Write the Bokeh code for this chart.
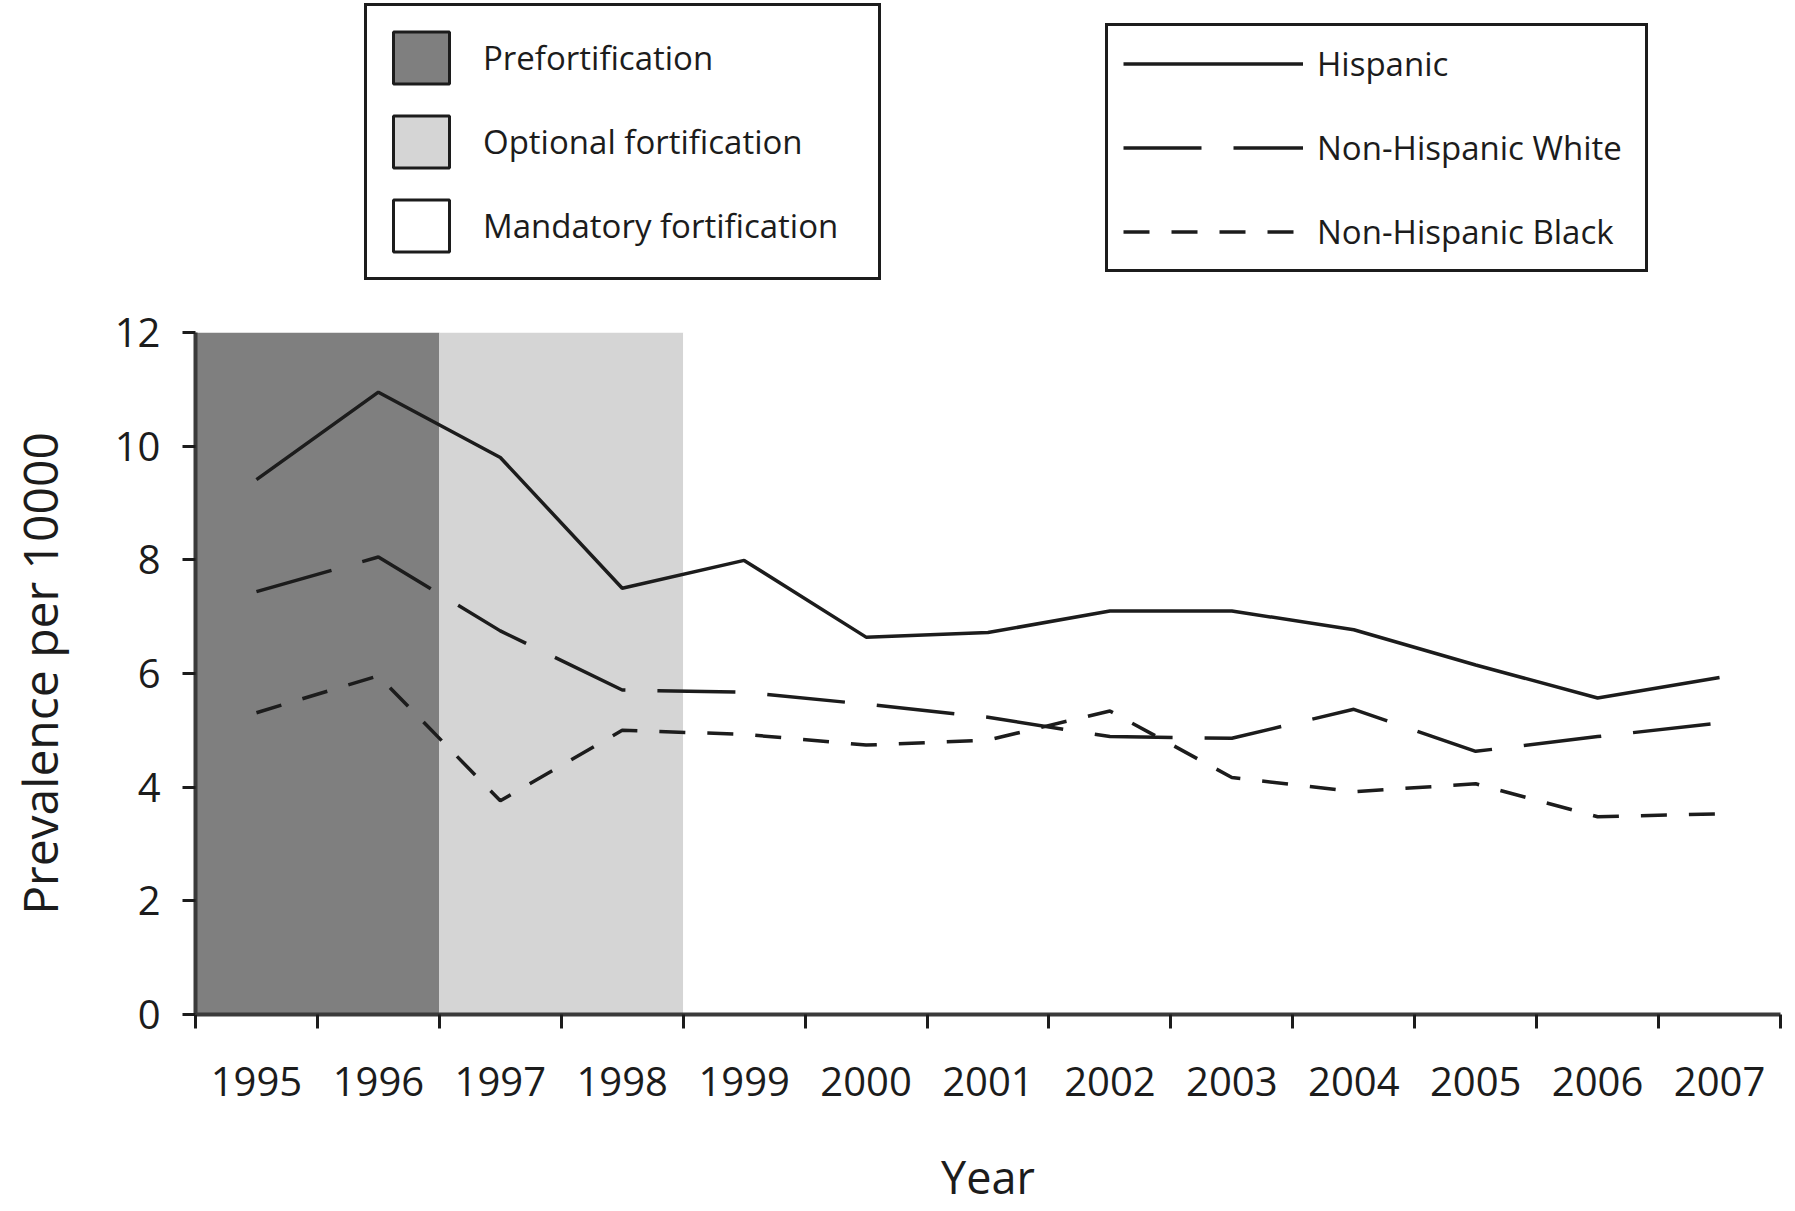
from bokeh.plotting import figure
from bokeh.layouts import column
from bokeh.models import Range1d, FixedTicker, Legend, LegendItem, ColumnDataSource
from bokeh.embed import file_html
from bokeh.resources import INLINE

# ---- data ----
years = [1995, 1996, 1997, 1998, 1999, 2000, 2001, 2002, 2003, 2004, 2005, 2006, 2007]
hispanic = [9.41, 10.95, 9.80, 7.50, 7.99, 6.64, 6.72, 7.10, 7.10, 6.77, 6.15, 5.57, 5.93]
nh_white = [7.44, 8.05, 6.75, 5.71, 5.67, 5.46, 5.23, 4.89, 4.86, 5.37, 4.63, 4.89, 5.13]
nh_black = [5.31, 5.96, 3.76, 5.00, 4.93, 4.74, 4.83, 5.34, 4.17, 3.92, 4.06, 3.48, 3.53]
series_names = ["Hispanic", "Non-Hispanic White", "Non-Hispanic Black"]
series_dash = ["solid", "78 32", "26 22"]

period_names = ["Prefortification", "Optional fortification", "Mandatory fortification"]
period_start = [1995, 1997, 1999]
period_end = [1996, 1998, 2007]
period_colors = ["#7f7f7f", "#d5d5d5", "#ffffff"]

y_ticks = [0, 2, 4, 6, 8, 10, 12]

FONT = "Open Sans"
INK = "#1c1c1c"
W = 1790
FRAME_LEFT = 195

periods = ColumnDataSource(dict(
    left=[s - 0.5 for s in period_start], right=[e + 0.5 for e in period_end],
    bottom=[y_ticks[0]] * 3, top=[y_ticks[-1]] * 3, color=period_colors))
series = [hispanic, nh_white, nh_black]

# ---------------- main chart ----------------
p = figure(width=W, height=911, output_backend="svg", toolbar_location=None,
           x_range=Range1d(years[0] - 0.5, years[-1] + 0.5),
           y_range=Range1d(y_ticks[0], y_ticks[-1]),
           min_border_left=FRAME_LEFT, min_border_right=10,
           min_border_top=32, min_border_bottom=197)
p.grid.visible = False
p.outline_line_color = None
p.background_fill_color = "white"
p.border_fill_color = "white"

p.quad(left="left", right="right", bottom="bottom", top="top", source=periods,
       fill_color="color", line_color=None)

for vals, dash in zip(series, series_dash):
    p.line(years, vals, line_width=3.5, line_color=INK, line_dash=dash)

xa = p.xaxis[0]
xa.ticker = FixedTicker(ticks=years, minor_ticks=[y - 0.5 for y in years] + [years[-1] + 0.5])
xa.major_tick_out = 0
xa.major_tick_in = 0
xa.minor_tick_out = 14
xa.minor_tick_in = 0
xa.minor_tick_line_width = 3
xa.minor_tick_line_color = INK
xa.axis_line_width = 4
xa.axis_line_color = "#3a3a3a"
xa.major_label_text_font = FONT
xa.major_label_text_font_size = "40px"
xa.major_label_text_color = INK
xa.major_label_standoff = 38
xa.axis_label = "Year"
xa.axis_label_text_font = FONT
xa.axis_label_text_font_size = "45px"
xa.axis_label_text_font_style = "normal"
xa.axis_label_text_color = INK
xa.axis_label_standoff = 47

ya = p.yaxis[0]
ya.ticker = FixedTicker(ticks=y_ticks, minor_ticks=[])
ya.major_tick_out = 13
ya.major_tick_in = 0
ya.major_tick_line_width = 3
ya.major_tick_line_color = INK
ya.minor_tick_line_color = None
ya.axis_line_width = 4
ya.axis_line_color = "#3a3a3a"
ya.major_label_text_font = FONT
ya.major_label_text_font_size = "40px"
ya.major_label_text_color = INK
ya.major_label_standoff = 22
ya.axis_label = "Prevalence per 10000"
ya.axis_label_text_font = FONT
ya.axis_label_text_font_size = "48px"
ya.axis_label_text_font_style = "normal"
ya.axis_label_text_color = INK
ya.axis_label_standoff = 40

# ---------------- legend strip (glyphs lie outside its view) ----------------
lp = figure(width=W, height=300, output_backend="svg", toolbar_location=None,
            x_range=Range1d(0, 1), y_range=Range1d(0, 1),
            x_axis_location=None, y_axis_location=None,
            min_border_left=FRAME_LEFT, min_border_right=10, min_border_top=0, min_border_bottom=0)
lp.grid.visible = False
lp.outline_line_color = None
lp.background_fill_color = "white"
lp.border_fill_color = "white"

sw = lp.quad(left="left", right="right", bottom="bottom", top="top", source=periods,
             fill_color="color", line_color=INK, line_width=3)
samples = [lp.line(years, vals, line_width=3.5, line_color=INK, line_dash=d)
           for vals, d in zip(series, series_dash)]

leg1 = Legend(items=[LegendItem(label=n, renderers=[sw], index=i) for i, n in enumerate(period_names)],
              location=(364 - FRAME_LEFT, 20), glyph_width=70, glyph_height=65, label_standoff=27,
              label_width=376, spacing=19, padding=19, margin=0,
              border_line_color=INK, border_line_width=3, border_line_alpha=1,
              label_text_font=FONT, label_text_font_size="33px", label_text_color=INK,
              background_fill_color="white", background_fill_alpha=1)
leg2 = Legend(items=[LegendItem(label=n, renderers=[r]) for n, r in zip(series_names, samples)],
              location=(1105 - FRAME_LEFT, 28), glyph_width=180, glyph_height=45, label_standoff=14,
              label_width=313, spacing=39, padding=15, margin=0,
              border_line_color=INK, border_line_width=3, border_line_alpha=1,
              label_text_font=FONT, label_text_font_size="33px", label_text_color=INK,
              background_fill_color="white", background_fill_alpha=1)
lp.add_layout(leg1)
lp.add_layout(leg2)

layout = column(lp, p, spacing=0)
open("out.html", "w").write(file_html(layout, INLINE))
